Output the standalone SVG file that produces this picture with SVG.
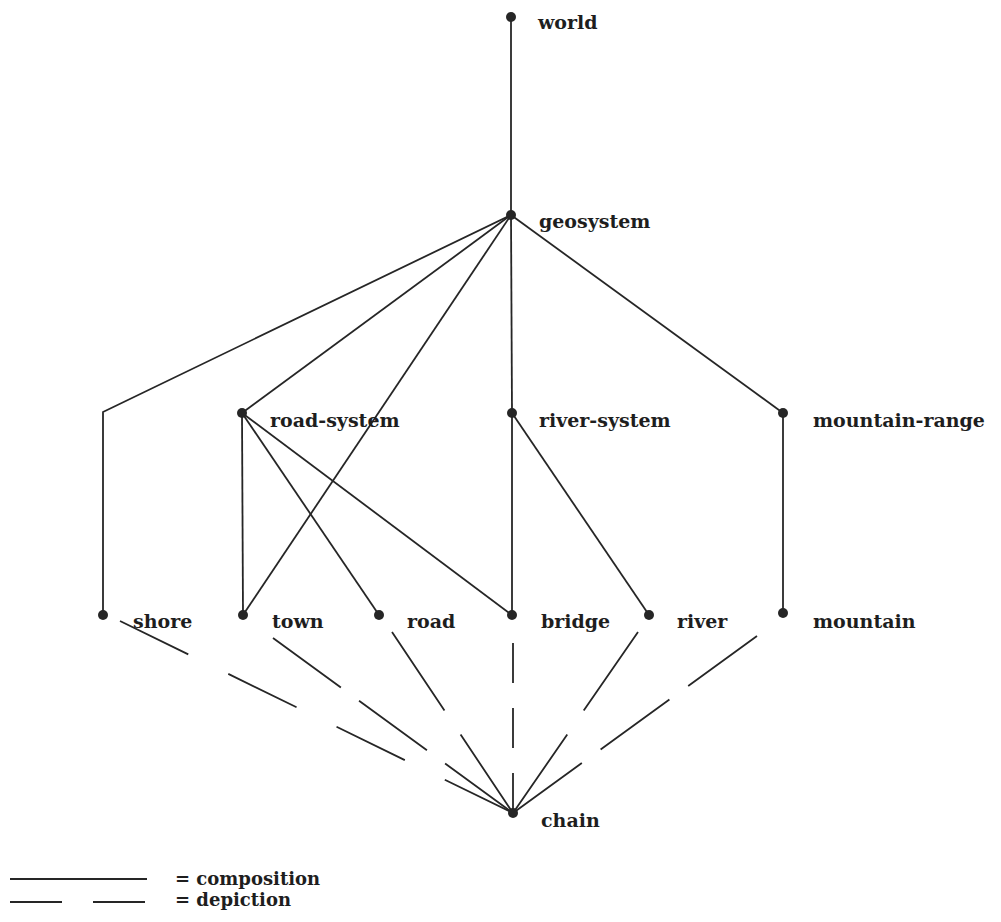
<svg xmlns="http://www.w3.org/2000/svg" width="1001" height="922" viewBox="0 0 1001 922">
  <style>
    .edge { stroke: #262626; stroke-width: 1.8; fill: none; stroke-linecap: butt; }
    .dot { fill: #262626; }
    .lbl { font-family: "DejaVu Serif", "Liberation Serif", serif; font-size: 19px; font-weight: bold; fill: #1e1e1e; }
    .key { font-size: 18px; }
  </style>
  <rect width="1001" height="922" fill="#ffffff"/>

  <!-- composition (solid) and depiction (dashed) links -->
  <g id="connectors">
    <line class="edge" x1="511" y1="15" x2="511" y2="215"/>
    <polyline class="edge" points="511,215 103,412 103,615"/>
    <line class="edge" x1="511" y1="215" x2="242" y2="413"/>
    <line class="edge" x1="511" y1="215" x2="243" y2="615"/>
    <line class="edge" x1="511" y1="215" x2="512" y2="413"/>
    <line class="edge" x1="511" y1="215" x2="783" y2="413"/>
    <line class="edge" x1="242" y1="413" x2="243" y2="615"/>
    <line class="edge" x1="242" y1="413" x2="379" y2="615"/>
    <line class="edge" x1="242" y1="413" x2="512" y2="615"/>
    <line class="edge" x1="512" y1="413" x2="512" y2="615"/>
    <line class="edge" x1="512" y1="413" x2="649" y2="615"/>
    <line class="edge" x1="783" y1="413" x2="783" y2="613"/>

    <line class="edge" x1="120" y1="621" x2="513" y2="813" stroke-dasharray="76 44.5"/>
    <line class="edge" x1="273" y1="638" x2="513" y2="813" stroke-dasharray="84 22.5"/>
    <line class="edge" x1="392" y1="632" x2="513" y2="813" stroke-dasharray="94.4 29"/>
    <line class="edge" x1="513" y1="643" x2="513" y2="813" stroke-dasharray="40 25"/>
    <line class="edge" x1="638" y1="632" x2="513" y2="813" stroke-dasharray="95.5 29"/>
    <line class="edge" x1="757" y1="636" x2="513" y2="813" stroke-dasharray="85 23.2"/>
  </g>

  <g id="world"><circle class="dot" cx="511" cy="17" r="5"/><text class="lbl" x="538" y="29">world</text></g>
  <g id="geosystem"><circle class="dot" cx="511" cy="215" r="5"/><text class="lbl" x="539" y="228">geosystem</text></g>
  <g id="road-system"><circle class="dot" cx="242" cy="413" r="5"/><text class="lbl" x="270" y="427">road-system</text></g>
  <g id="river-system"><circle class="dot" cx="512" cy="413" r="5"/><text class="lbl" x="539" y="427">river-system</text></g>
  <g id="mountain-range"><circle class="dot" cx="783" cy="413" r="5"/><text class="lbl" x="813" y="427">mountain-range</text></g>
  <g id="shore"><circle class="dot" cx="103" cy="615" r="5"/><text class="lbl" x="133" y="628">shore</text></g>
  <g id="town"><circle class="dot" cx="243" cy="615" r="5"/><text class="lbl" x="272" y="628">town</text></g>
  <g id="road"><circle class="dot" cx="379" cy="615" r="5"/><text class="lbl" x="407" y="628">road</text></g>
  <g id="bridge"><circle class="dot" cx="512" cy="615" r="5"/><text class="lbl" x="541" y="628">bridge</text></g>
  <g id="river"><circle class="dot" cx="649" cy="615" r="5"/><text class="lbl" x="677" y="628">river</text></g>
  <g id="mountain"><circle class="dot" cx="783" cy="613" r="5"/><text class="lbl" x="813" y="628">mountain</text></g>
  <g id="chain"><circle class="dot" cx="513" cy="813" r="5"/><text class="lbl" x="541" y="827">chain</text></g>

  <!-- key -->
  <g id="legend">
    <line class="edge" x1="10" y1="879" x2="147" y2="879"/>
    <line class="edge" x1="10" y1="902" x2="147" y2="902" stroke-dasharray="52 31"/>
    <text class="lbl key" x="175" y="885">= composition</text>
    <text class="lbl key" x="175" y="906">= depiction</text>
  </g>
</svg>
